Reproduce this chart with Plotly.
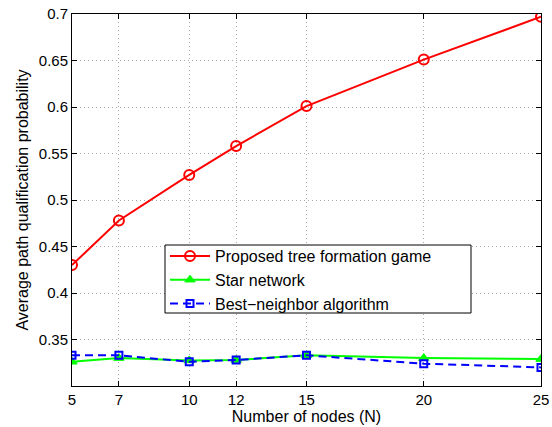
import plotly.graph_objects as go

nodes = [5, 7, 10, 12, 15, 20, 25]
proposed = [0.430, 0.478, 0.527, 0.558, 0.601, 0.651, 0.697]
star = [0.326, 0.330, 0.3275, 0.328, 0.333, 0.330, 0.329]
best_neighbor = [0.333, 0.333, 0.326, 0.328, 0.333, 0.324, 0.320]
y_ticks = [0.35, 0.4, 0.45, 0.5, 0.55, 0.6, 0.65, 0.7]
y_labels = ["0.35", "0.4", "0.45", "0.5", "0.55", "0.6", "0.65", "0.7"]

FONT = "Liberation Sans, Arial, Helvetica, sans-serif"

fig = go.Figure()
fig.add_trace(go.Scatter(x=nodes, y=proposed, mode="lines+markers",
                         name="Proposed tree formation game",
                         line=dict(color="#ff0000", width=2),
                         marker=dict(symbol="circle-open", size=10, color="#ff0000",
                                     line=dict(width=2, color="#ff0000"))))
fig.add_trace(go.Scatter(x=nodes, y=star, mode="lines+markers",
                         name="Star network",
                         line=dict(color="#00ff00", width=2),
                         marker=dict(symbol="triangle-up", size=9, color="#00ff00",
                                     line=dict(width=1, color="#00ff00"))))
fig.add_trace(go.Scatter(x=nodes, y=best_neighbor, mode="lines+markers",
                         name="Best\u2212neighbor algorithm",
                         line=dict(color="#0000ff", width=2, dash="8px,5px"),
                         marker=dict(symbol="square-open", size=7, color="#0000ff",
                                     line=dict(width=2, color="#0000ff"))))

W, H = 552, 427
L, R, T, B = 72, 11, 14, 41
pw, ph = W - L - R, H - T - B

# legend frame (pixel positions converted to paper fractions)
box_x0, box_x1, box_y0, box_y1 = 165, 471, 245, 313

fig.update_layout(
    width=W, height=H,
    margin=dict(l=L, r=R, t=T, b=B, pad=0),
    paper_bgcolor="white", plot_bgcolor="white",
    font=dict(family=FONT, size=15, color="black"),
    showlegend=True,
    legend=dict(x=(box_x0 - L) / pw, y=1 - (239 - T) / ph, xanchor="left", yanchor="top",
                orientation="h", entrywidth=279, entrywidthmode="pixels",
                bgcolor="rgba(0,0,0,0)", borderwidth=0,
                font=dict(family=FONT, size=16, color="black"),
                tracegroupgap=0, itemwidth=40),
    shapes=[dict(type="rect", xref="paper", yref="paper",
                 x0=(box_x0 - L) / pw, x1=(box_x1 - L) / pw,
                 y0=1 - (box_y1 - T) / ph, y1=1 - (box_y0 - T) / ph,
                 line=dict(color="black", width=1), fillcolor="white", layer="above")],
)
grid = dict(showgrid=True, gridcolor="#aaaaaa", griddash="1px,3px", gridwidth=1)
fig.update_xaxes(range=[5, 25], tickvals=nodes, ticktext=[str(n) for n in nodes],
                 showline=True, linecolor="black", linewidth=1, mirror="allticks",
                 ticks="inside", ticklen=5, tickcolor="black", ticklabeloverflow="allow",
                 zeroline=False, tickfont=dict(family=FONT, size=15),
                 title=dict(text="Number of nodes (N)", standoff=2,
                            font=dict(family=FONT, size=16)),
                 automargin=False, **grid)
fig.update_yaxes(range=[0.3, 0.7], tickvals=y_ticks, ticktext=y_labels,
                 showline=True, linecolor="black", linewidth=1, mirror="allticks",
                 ticks="inside", ticklen=5, tickcolor="black", ticklabeloverflow="allow",
                 zeroline=False, tickfont=dict(family=FONT, size=15),
                 title=dict(text="Average path qualification probability", standoff=6,
                            font=dict(family=FONT, size=16)),
                 automargin=False, **grid)

fig.write_html("out.html", config={"displayModeBar": False},
               post_script="document.body.style.margin='0';document.body.style.overflow='hidden';")
